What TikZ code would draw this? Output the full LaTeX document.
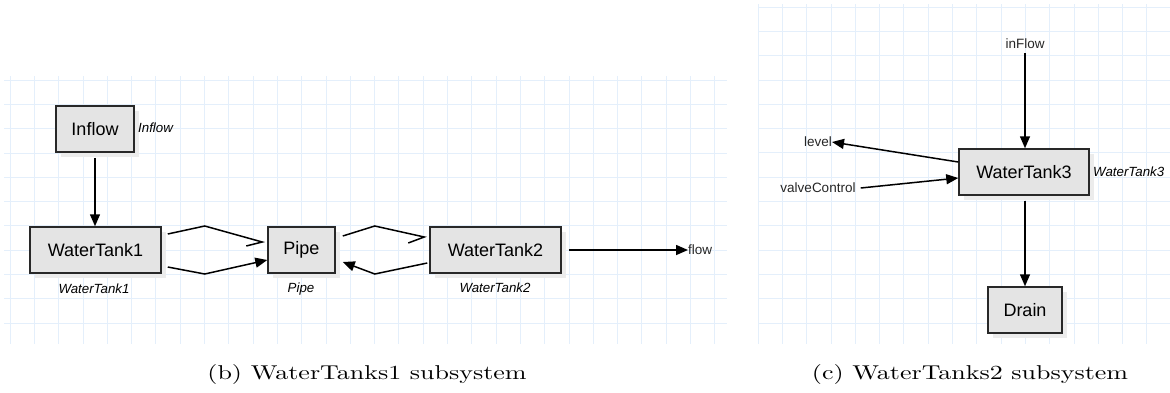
\documentclass[tikz,border=0pt]{standalone}
\usepackage{fontspec}
\newfontfamily\arial{Liberation Sans}
\newfontfamily\capfont{lmroman10-regular}[Extension=.otf]
\usetikzlibrary{arrows.meta,shadows,calc}

\definecolor{gridline}{RGB}{228,239,251}
\definecolor{boxfill}{RGB}{228,228,228}
\definecolor{boxshade}{RGB}{236,236,236}
\definecolor{boxline}{RGB}{40,40,40}

\tikzset{
  block/.style={draw=boxline, line width=1.5pt, fill=boxfill,
    minimum height=46pt, inner sep=0pt,
    font=\arial\fontsize{18}{20}\selectfont,
    drop shadow={shadow xshift=5pt, shadow yshift=-5pt, fill=boxshade, opacity=1}},
  tag/.style={font=\arial\itshape\fontsize{13.3}{15}\selectfont, inner sep=0pt},
  port/.style={font=\arial\fontsize{13.5}{15}\selectfont, text=black!85, inner sep=0pt},
  flowline/.style={line width=1.5pt, -{Triangle[length=12pt,width=10pt]}},
  plainline/.style={line width=1.5pt},
  caption/.style={font=\capfont\fontsize{20}{24}\selectfont, inner sep=0pt, xscale=1.3}
}

\begin{document}
\begin{tikzpicture}[x=1pt, y=-1pt]
\useasboundingbox (0,0) rectangle (1170,392);

% background grids of the two editors
\begin{scope}[gridline, line width=0.8pt]
  \foreach \i in {0,...,29} \draw (10+24.3*\i,76) -- (10+24.3*\i,344);
  \foreach \j in {0,...,10} \draw (4,80+24.3*\j) -- (727,80+24.3*\j);
  \foreach \i in {0,...,16} \draw (758+24.3*\i,4) -- (758+24.3*\i,344);
  \foreach \j in {0,...,13} \draw (758,7+24.3*\j) -- (1170,7+24.3*\j);
\end{scope}

% ---- WaterTanks1 subsystem ----
\node[block, minimum width=78pt]  (inflow) at (95,129)    {Inflow};
\node[block, minimum width=131pt] (wt1)    at (95.5,250)  {WaterTank1};
\node[block, minimum width=67pt]  (pipe)   at (301.5,250) {Pipe};
\node[block, minimum width=131pt] (wt2)    at (495.5,250) {WaterTank2};

\node[tag, anchor=west] (inflowtag) at (138,128) {Inflow};
\node[tag] (wt1tag)  at (94,289)  {WaterTank1};
\node[tag] (pipetag) at (301,289) {Pipe};
\node[tag] (wt2tag)  at (495,288) {WaterTank2};

\node[port, anchor=west] (flow) at (688,250) {flow};

\draw[flowline] ([shift={(0,5)}]inflow.south) -- (inflow.south |- wt1.north);

% tank 1 -> pipe (upper link with a single open barb)
\coordinate (b1) at ([shift={(-5,-8)}]pipe.west);
\draw[plainline, line join=miter] ([shift={(6,-16)}]wt1.east) -- ([shift={(43,-24)}]wt1.east) -- (b1) -- ++(-16,4);
\draw[flowline] ([shift={(6,17)}]wt1.east) -- ([shift={(43,24)}]wt1.east) -- ([shift={(0,10)}]pipe.west);

% pipe <-> tank 2
\coordinate (b2) at ([shift={(-5,-13)}]wt2.west);
\draw[plainline, line join=miter] ([shift={(7,-14)}]pipe.east) -- ([shift={(39,-24)}]pipe.east) -- (b2) -- ++(-16,6);
\draw[flowline] ([shift={(-2,13)}]wt2.west) -- ([shift={(39,24)}]pipe.east) -- ([shift={(7,12)}]pipe.east);

\draw[flowline] ([shift={(7,0)}]wt2.east) -- (flow.west);

% ---- WaterTanks2 subsystem ----
\node[block, minimum width=130pt] (wt3)   at (1024,172) {WaterTank3};
\node[block, minimum width=74pt]  (drain) at (1025,310) {Drain};
\node[tag, anchor=west] (wt3tag) at (1093,172) {WaterTank3};

\node[port] (inflowport) at (1025,44) {inFlow};
\node[port, anchor=east] (level) at (832,142) {level};
\node[port] (valve) at (818,188) {valveControl};

\draw[flowline] ([shift={(0,4)}]inflowport.south) -- (inflowport.south |- wt3.north);
\draw[flowline] ([shift={(0,-10)}]wt3.west) -- (level.east);
\draw[flowline] ([shift={(5,0)}]valve.east) -- ([shift={(0,6)}]wt3.west);
\draw[flowline] ([shift={(1,5)}]wt3.south) -- (drain.north);

% captions
\node[caption] (capb) at (367,374) {(b) WaterTanks1 subsystem};
\node[caption] (capc) at (970,374) {(c) WaterTanks2 subsystem};
\end{tikzpicture}
\end{document}
